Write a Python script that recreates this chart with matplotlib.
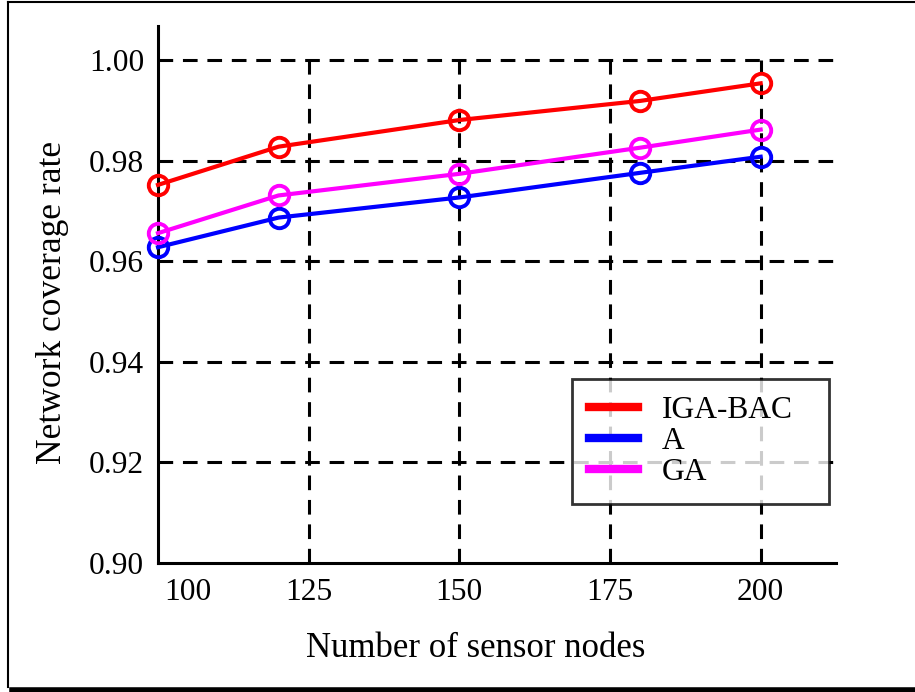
import matplotlib
matplotlib.use("Agg")
import matplotlib.pyplot as plt
import matplotlib.transforms as mtransforms
from matplotlib.lines import Line2D

# data
nodes = [100, 120, 150, 180, 200]
iga_bac = [0.9752, 0.9828, 0.9881, 0.9919, 0.9954]
a_alg = [0.9628, 0.9687, 0.9727, 0.9776, 0.9808]
ga = [0.9656, 0.9731, 0.9774, 0.9826, 0.9862]

series_names = ["IGA-BAC", "A", "GA"]
x_ticks = [100, 125, 150, 175, 200]
y_ticks = [0.90, 0.92, 0.94, 0.96, 0.98, 1.00]

plt.rcParams['font.family'] = ['Liberation Serif', 'DejaVu Serif']

fig = plt.figure(figsize=(9.15, 6.92), dpi=100)
ax = fig.add_axes([158 / 915, 1 - 563 / 692, (836 - 158) / 915, (563 - 26) / 692])

for ys, c, name in zip([iga_bac, a_alg, ga], ['#ff0000', '#0000ff', '#ff00ff'], series_names):
    ax.plot(nodes, ys, color=c, lw=3, marker='o', ms=14, mfc='none', mew=2.8,
            label=name, zorder=3, clip_on=False)

# dashed grid (vertical lines only up to 1.00)
dash = (0, (4.8, 3.2))
for yv in y_ticks[1:]:
    ax.plot([100, 212.5], [yv, yv], color='black', lw=2.2, ls=dash, zorder=1,
            clip_on=False)
for xv in x_ticks[1:]:
    ax.plot([xv, xv], [0.90, 1.00], color='black', lw=2.2, ls=dash, zorder=1)

ax.set_xlim(100, 212.5)
ax.set_ylim(0.90, 1.0068)
ax.set_xticks(x_ticks)
ax.set_yticks(y_ticks)
ax.set_yticklabels([f"{v:.2f}" for v in y_ticks])
ax.tick_params(axis='both', labelsize=22.7, length=0)
ax.tick_params(axis='x', pad=11)
ax.tick_params(axis='y', pad=10)

# the "100" label sits to the right of its tick in the original
lbl = ax.get_xticklabels()[0]
lbl.set_transform(lbl.get_transform() + mtransforms.ScaledTranslation(0.30, 0, fig.dpi_scale_trans))

for side in ['top', 'right']:
    ax.spines[side].set_visible(False)
for side in ['left', 'bottom']:
    ax.spines[side].set_linewidth(2.2)

ax.set_xlabel('Number of sensor nodes', fontsize=25, labelpad=18)
ax.set_ylabel('Network coverage rate', fontsize=25.5, labelpad=14)
ax.xaxis.label.set_x(0.469)
ax.yaxis.label.set_y(0.486)

handles = [Line2D([0], [0], color=c, lw=6) for c in ['#ff0000', '#0000ff', '#ff00ff']]
leg = ax.legend(handles, series_names, loc='lower left',
                bbox_to_anchor=(0.6106, 0.1099, 0.3791, 0.2), mode='expand',
                fontsize=22.7, frameon=True, fancybox=False, edgecolor='black',
                handlelength=1.55, handletextpad=0.75, labelspacing=0.05,
                borderpad=0.55, borderaxespad=0)
leg.get_frame().set_linewidth(2)
leg.set_zorder(5)

# outer border of the picture
fig.add_artist(Line2D([8 / 915, 1], [1 - 2 / 692, 1 - 2 / 692], color='black', lw=1.5))
fig.add_artist(Line2D([8 / 915, 8 / 915], [1 - 2 / 692, 1 - 687 / 692], color='black', lw=1.5))
fig.add_artist(Line2D([12 / 915, 1], [2.5 / 692, 2.5 / 692], color='black', lw=4))

fig.savefig('out.png', dpi=100)
